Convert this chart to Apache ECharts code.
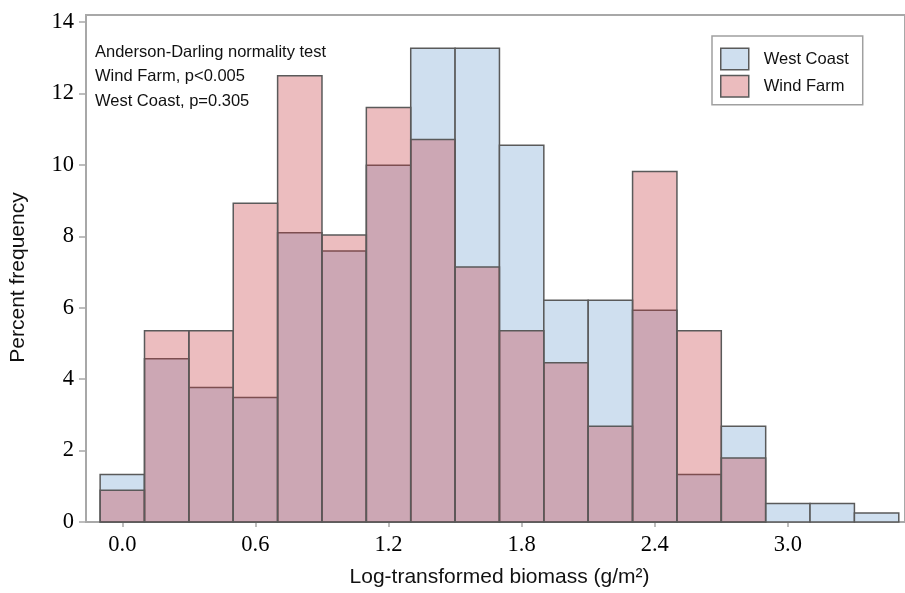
<!DOCTYPE html>
<html lang="en">
<head>
  <meta charset="UTF-8">
  <title>Biomass histogram</title>
  <script src="https://cdn.jsdelivr.net/npm/echarts@6/dist/echarts.min.js"></script>
  <style>
    html, body { margin: 0; padding: 0; background: #fff; }
    #c1 { width: 905px; height: 593px; }
  </style>
</head>
<body>
<div id="c1"></div>
<script>
  // histogram bins (centre of each bin, width 0.2)
  var binWidth = 0.2;
  var binCenters = [0.0, 0.2, 0.4, 0.6, 0.8, 1.0, 1.2, 1.4, 1.6, 1.8, 2.0, 2.2, 2.4, 2.6, 2.8, 3.0, 3.2, 3.4];
  // percent frequency per bin
  var westCoast = [1.33, 4.57, 3.77, 3.49, 8.10, 7.59, 9.99, 13.27, 13.27, 10.55, 6.21, 6.21, 5.93, 1.33, 2.68, 0.52, 0.52, 0.25];
  var windFarm = [0.89, 5.36, 5.36, 8.93, 12.50, 8.04, 11.61, 10.71, 7.14, 5.36, 4.46, 2.68, 9.82, 5.36, 1.79, 0, 0, 0];
  var xTicks = [0.0, 0.6, 1.2, 1.8, 2.4, 3.0];
  var yTicks = [0, 2, 4, 6, 8, 10, 12, 14];
  var noteLines = ['Anderson-Darling normality test', 'Wind Farm, p<0.005', 'West Coast, p=0.305'];

  var axisGray = '#a8a8a8';
  var edge = '#5a5a5a';

  function toPairs(values) {
    var out = [];
    for (var i = 0; i < binCenters.length; i++) {
      if (values[i] > 0) out.push([binCenters[i], values[i]]);
    }
    return out;
  }

  function binRenderer(fill) {
    return function (params, api) {
      var c = api.value(0);
      var v = api.value(1);
      var p0 = api.coord([c - binWidth / 2, v]);
      var p1 = api.coord([c + binWidth / 2, 0]);
      return {
        type: 'rect',
        shape: { x: p0[0], y: p0[1], width: p1[0] - p0[0], height: p1[1] - p0[1] },
        style: { fill: fill, stroke: edge, lineWidth: 1.5 }
      };
    };
  }

  var chart = echarts.init(document.getElementById('c1'));
  var blueFill = '#cfdfef';
  var pinkFill = 'rgba(197, 54, 60, 0.33)';

  var option = {
    animation: false,
    grid: {
      left: 84, right: 0, top: 15, bottom: 68.7,
      show: true, borderColor: axisGray, borderWidth: 2
    },
    legend: {
      orient: 'vertical',
      left: 712, top: 36,
      icon: 'rect',
      itemWidth: 28, itemHeight: 21.5, itemGap: 4.3,
      padding: [11.5, 14, 7, 8],
      borderColor: '#a0a0a0', borderWidth: 1.5,
      itemStyle: { borderColor: edge, borderWidth: 1.5 },
      textStyle: { fontFamily: 'Liberation Sans', fontSize: 16.5, color: '#111', padding: [0, 0, 0, 10] },
      data: [
        { name: 'West Coast', itemStyle: { color: blueFill } },
        { name: 'Wind Farm', itemStyle: { color: '#ebbcbe' } }
      ]
    },
    graphic: [{
      type: 'text',
      left: 95, top: 40,
      style: {
        text: noteLines.join('\n'),
        font: '16.5px "Liberation Sans"',
        fill: '#111',
        lineHeight: 24.5
      }
    }],
    xAxis: {
      type: 'value',
      min: -0.1637, max: 3.528,
      name: 'Log-transformed biomass (g/m²)',
      nameLocation: 'middle', nameGap: 45,
      nameTextStyle: { fontFamily: 'Liberation Sans', fontSize: 21, color: '#111', padding: [0, 0, 0, 8] },
      axisLine: { onZero: false, lineStyle: { color: axisGray, width: 2 } },
      axisTick: { customValues: xTicks, length: 5, lineStyle: { color: axisGray, width: 1.5 } },
      axisLabel: {
        customValues: xTicks, margin: 12,
        fontFamily: 'Liberation Serif', fontSize: 22.5, color: '#000',
        formatter: function (v) { return v.toFixed(1); }
      },
      splitLine: { show: false }
    },
    yAxis: {
      type: 'value',
      min: 0, max: 14.2,
      name: 'Percent frequency',
      nameLocation: 'middle', nameGap: 57,
      nameTextStyle: { fontFamily: 'Liberation Sans', fontSize: 21, color: '#111', padding: [0, 0, 0, -18] },
      axisLine: { show: true, onZero: false, lineStyle: { color: axisGray, width: 2 } },
      axisTick: { show: true, customValues: yTicks, length: 7, lineStyle: { color: axisGray, width: 1.5 } },
      axisLabel: {
        customValues: yTicks, margin: 12,
        fontFamily: 'Liberation Serif', fontSize: 22.5, color: '#000'
      },
      splitLine: { show: false }
    },
    series: [
      {
        name: 'West Coast',
        type: 'custom',
        itemStyle: { color: blueFill },
        renderItem: binRenderer(blueFill),
        encode: { x: 0, y: 1 },
        data: toPairs(westCoast),
        z: 2
      },
      {
        name: 'Wind Farm',
        type: 'custom',
        itemStyle: { color: '#ebbcbe' },
        renderItem: binRenderer(pinkFill),
        encode: { x: 0, y: 1 },
        data: toPairs(windFarm),
        z: 3
      }
    ]
  };

  chart.setOption(option);
</script>
</body>
</html>
